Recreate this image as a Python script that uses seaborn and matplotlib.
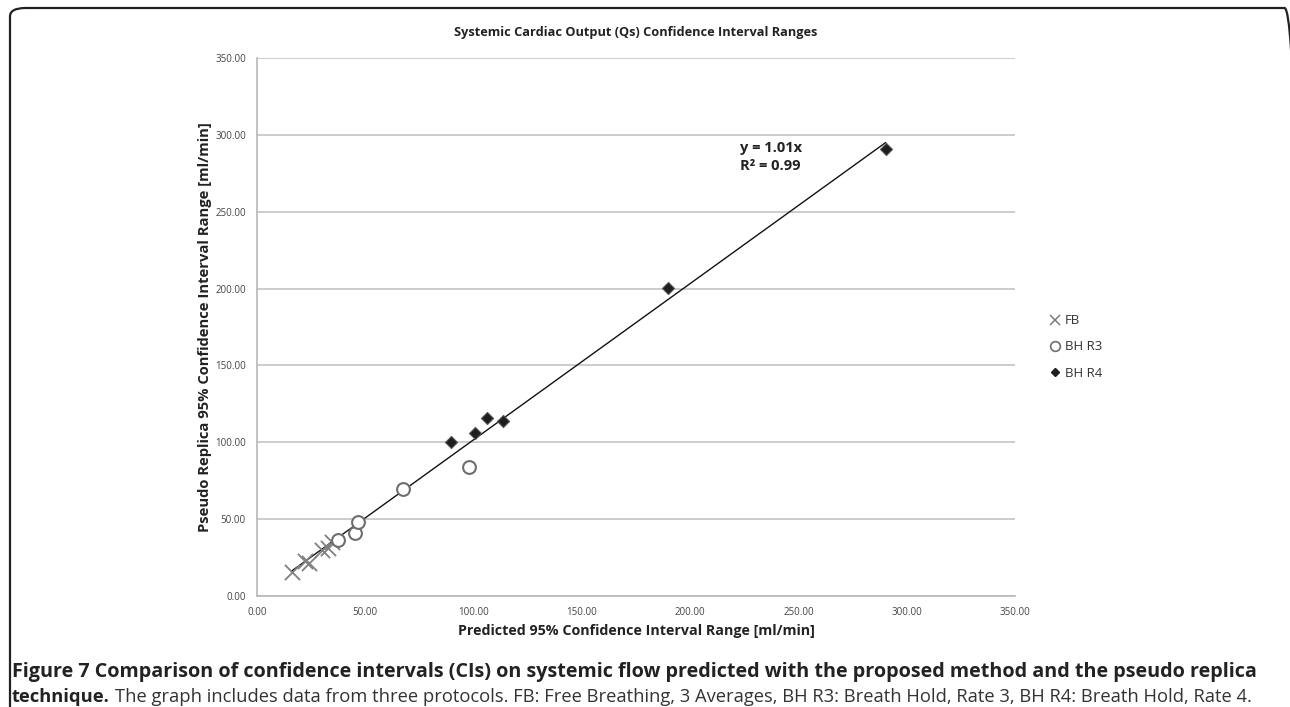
import numpy as np
import pandas as pd
import matplotlib
matplotlib.use("Agg")
import matplotlib.pyplot as plt
import seaborn as sns
from matplotlib.patches import FancyBboxPatch
from matplotlib.lines import Line2D

# ---- data ----
fb_x = [16.0, 22.2, 24.0, 29.9, 32.9, 34.5]
fb_y = [15.8, 23.0, 21.5, 29.9, 31.0, 35.3]
r3_x = [37.6, 45.2, 46.8, 67.5, 97.9]
r3_y = [36.4, 41.0, 48.3, 69.6, 83.7]
r4_x = [89.4, 100.7, 106.3, 113.7, 190.0, 290.3]
r4_y = [100.0, 105.8, 116.0, 113.6, 200.5, 290.5]
series_names = ["FB", "BH R3", "BH R4"]
ticks = [0, 50, 100, 150, 200, 250, 300, 350]
trend_label = "y = 1.01x\nR² = 0.99"

sns.set_theme(style="white")
plt.rcParams['font.family'] = ['Open Sans', 'DejaVu Sans']

W, H = 1290, 707
fig = plt.figure(figsize=(W / 100, H / 100), dpi=100)

# rounded frame around chart + caption
frame = FancyBboxPatch((10 / W, -20 / H), (1300 - 10) / W, (H + 20 - 8) / H,
                       boxstyle="round,pad=0,rounding_size=0.012",
                       transform=fig.transFigure, fill=False,
                       edgecolor="#222222", linewidth=1.6, clip_on=False)
fig.patches.append(frame)

L, R, T, B = 257, 1015, 58, 596
ax = fig.add_axes([L / W, 1 - B / H, (R - L) / W, (B - T) / H])

df_fb = pd.DataFrame({"x": fb_x, "y": fb_y})
df_r3 = pd.DataFrame({"x": r3_x, "y": r3_y})
df_r4 = pd.DataFrame({"x": r4_x, "y": r4_y})

# trendline through origin
allx = np.array(fb_x + r3_x + r4_x)
ally = np.array(fb_y + r3_y + r4_y)
slope = (allx * ally).sum() / (allx * allx).sum()
lx = np.array([allx.min(), allx.max()])
sns.lineplot(x=lx, y=slope * lx, ax=ax, color="#111111", linewidth=1.0, zorder=3)

sns.scatterplot(data=df_fb, x="x", y="y", ax=ax, marker="x", s=120,
                color="#808080", linewidth=1.3, zorder=4)
sns.scatterplot(data=df_r3, x="x", y="y", ax=ax, marker="o", s=85,
                facecolor="white", edgecolor="#6e6e6e", linewidth=1.5, zorder=4)
sns.scatterplot(data=df_r4, x="x", y="y", ax=ax, marker="D", s=38,
                color="#1e1e1e", edgecolor="#555555", linewidth=0.8, zorder=5)

ax.set_xlim(0, 350)
ax.set_ylim(0, 350)
ax.set_xticks(ticks)
ax.set_yticks(ticks)
ax.set_xticklabels([f"{t:.2f}" for t in ticks])
ax.set_yticklabels([f"{t:.2f}" for t in ticks])
ax.tick_params(axis="both", labelsize=7, colors="#444444", length=0, pad=8)
ax.yaxis.grid(True, color="#c4c4c4", linewidth=1.2)
ax.xaxis.grid(False)
for s in ["top", "right"]:
    ax.spines[s].set_visible(False)
for s in ["left", "bottom"]:
    ax.spines[s].set_color("#b8b8b8")
    ax.spines[s].set_linewidth(1.2)
ax.set_axisbelow(True)

ax.set_title("Systemic Cardiac Output (Qs) Confidence Interval Ranges",
             fontsize=9.2, fontweight="bold", color="#222222", pad=16)
ax.set_xlabel("Predicted 95% Confidence Interval Range [ml/min]",
              fontsize=10.3, fontweight="bold", color="#222222", labelpad=4)
ax.set_ylabel("Pseudo Replica 95% Confidence Interval Range [ml/min]",
              fontsize=10.6, fontweight="bold", color="#222222", labelpad=2)

ax.text(223, 285.6, trend_label, fontsize=10.5, fontweight="bold",
        color="#222222", ha="left", va="center", linespacing=1.45)

handles = [
    Line2D([], [], linestyle="none", marker="x", color="#7a7a7a", markersize=7, markeredgewidth=1.1),
    Line2D([], [], linestyle="none", marker="o", markerfacecolor="white", markeredgecolor="#6e6e6e", markersize=7, markeredgewidth=1.2),
    Line2D([], [], linestyle="none", marker="D", color="#1e1e1e", markersize=4.5),
]
fig.legend(handles, series_names, loc="center left",
           bbox_to_anchor=(1050 / W, 1 - 347 / H), frameon=False,
           fontsize=9.5, handlelength=0.8, handletextpad=0.3,
           labelspacing=1.0, borderaxespad=0, borderpad=0,
           labelcolor="#333333")

# caption
fig.text(12 / W, 1 - 672 / H,
         "Figure 7 Comparison of confidence intervals (CIs) on systemic flow predicted with the proposed method and the pseudo replica",
         fontsize=14.2, fontweight="bold", color="#222222", va="center", ha="left")
t1 = fig.text(12 / W, 1 - 697 / H, "technique.", fontsize=13.2, fontweight="bold",
              color="#222222", va="center", ha="left")
fig.canvas.draw()
bb = t1.get_window_extent()
fig.text((bb.x1 + 5) / W, 1 - 697 / H,
         "The graph includes data from three protocols. FB: Free Breathing, 3 Averages, BH R3: Breath Hold, Rate 3, BH R4: Breath Hold, Rate 4.",
         fontsize=13.2, color="#333333", va="center", ha="left")

fig.savefig("out.png", dpi=100)
